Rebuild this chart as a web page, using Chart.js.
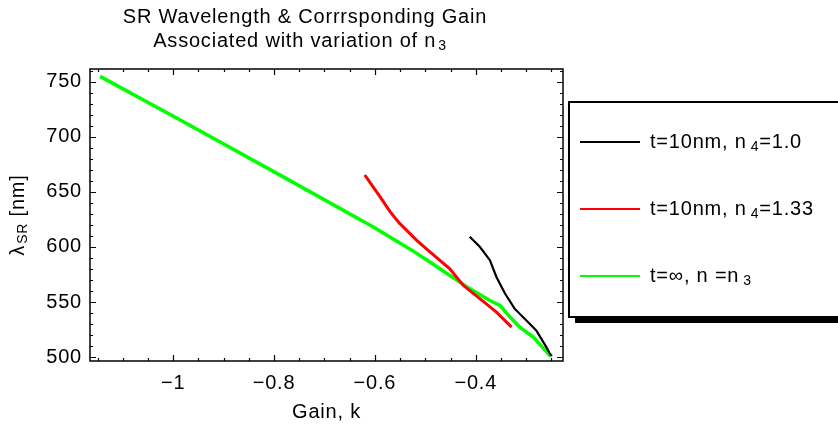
<!DOCTYPE html>
<html>
<head>
<meta charset="utf-8">
<script src="https://cdn.jsdelivr.net/npm/chart.js@4/dist/chart.umd.min.js"></script>
<style>
  html, body { margin: 0; padding: 0; background: #fff; overflow: hidden; }
  canvas { display: block; }
</style>
</head>
<body>
<canvas id="c" width="838" height="425"></canvas>
<script>
// Gain k and SR wavelength (nm) for each structure
const gainT10N4a = [-0.412, -0.392, -0.372, -0.359, -0.342, -0.323, -0.300, -0.280, -0.260, -0.253, -0.249];
const lambdaT10N4a = [609.2, 600.1, 588.0, 572.8, 557.7, 544.0, 533.4, 524.3, 509.1, 503.1, 501.0];

const gainT10N4b = [-0.620, -0.604, -0.590, -0.570, -0.551, -0.517, -0.491, -0.452, -0.425, -0.392, -0.359, -0.329];
const lambdaT10N4b = [665.3, 654.7, 645.6, 632.0, 621.4, 606.0, 595.5, 580.4, 565.2, 553.1, 540.9, 527.3];

const gainTinf = [-1.145, -0.987, -0.789, -0.604, -0.527, -0.491, -0.452, -0.412, -0.373, -0.352, -0.332, -0.313, -0.286, -0.251];
const lambdaTinf = [754.8, 715.4, 665.4, 618.3, 597.1, 586.4, 574.3, 562.2, 551.6, 547.0, 536.4, 527.3, 518.2, 500.5];

// Axis tick labels
const xTickLabels = [-1, -0.8, -0.6, -0.4];
const yTickLabels = [500, 550, 600, 650, 700, 750];

// Legend labels as text runs (sub = subscript)
const labelT10N4a = [{ t: 't=10nm, n' }, { t: '4', sub: true, gap: 4 }, { t: '=1.0' }];
const labelT10N4b = [{ t: 't=10nm, n' }, { t: '4', sub: true, gap: 4 }, { t: '=1.33' }];
const labelTinf = [{ t: 't=\u221E, n =n' }, { t: '3', sub: true, gap: 4 }];

const titleLine1 = [{ t: 'SR Wavelength & Corrrsponding Gain' }];
const titleLine2 = [{ t: 'Associated with variation of n' }, { t: '3', sub: true, gap: 2 }];
const xTitle = [{ t: 'Gain, k' }];
const yTitle = [{ t: '\u03BB' }, { t: 'SR', sub: true, gap: 1 }, { t: ' [nm]' }];

const FONT = '"Liberation Sans", Arial, sans-serif';
const SIZE = 20;
const SPACING = '0.8px';
const pts = (xs, ys) => xs.map((x, i) => ({ x, y: ys[i] }));

function richWidth(ctx, segs, size) {
  let w = 0;
  for (const s of segs) {
    ctx.font = (s.sub ? Math.round(size * 0.72) : size) + 'px ' + FONT;
    w += ctx.measureText(s.t).width + (s.gap || 0);
  }
  return w;
}

function drawRich(ctx, segs, x, y, size, align) {
  const total = richWidth(ctx, segs, size);
  let cx = align === 'center' ? x - total / 2 : align === 'right' ? x - total : x;
  ctx.textBaseline = 'middle';
  ctx.textAlign = 'left';
  ctx.fillStyle = '#000';
  for (const s of segs) {
    const sz = s.sub ? Math.round(size * 0.72) : size;
    ctx.font = sz + 'px ' + FONT;
    cx += (s.gap || 0);
    ctx.fillText(s.t, cx, s.sub ? y + size * 0.28 : y);
    cx += ctx.measureText(s.t).width;
  }
}

// Slightly wider text spacing for every label on the canvas
const spacing = {
  id: 'spacing',
  beforeLayout(chart) { chart.ctx.letterSpacing = SPACING; },
  beforeDraw(chart) { chart.ctx.letterSpacing = SPACING; }
};

// Frame, inward tick marks, titles and legend box
const decorations = {
  id: 'decorations',
  afterDraw(chart) {
    const { ctx, chartArea: a, scales } = chart;
    const xs = scales.x, ys = scales.y;
    ctx.save();
    ctx.letterSpacing = SPACING;
    ctx.strokeStyle = '#000';
    ctx.lineWidth = 1.5;
    ctx.strokeRect(a.left, a.top, a.right - a.left, a.bottom - a.top);

    ctx.lineWidth = 1.2;
    ctx.beginPath();
    // x ticks every 0.05, longer at labelled values
    for (let k = Math.ceil(xs.min / 0.05); k * 0.05 <= xs.max; k++) {
      const v = k * 0.05;
      const major = xTickLabels.some(t => Math.abs(t - v) < 1e-6);
      const len = major ? 6 : 3;
      const px = Math.round(xs.getPixelForValue(v)) + 0.5;
      ctx.moveTo(px, a.bottom); ctx.lineTo(px, a.bottom - len);
      ctx.moveTo(px, a.top); ctx.lineTo(px, a.top + len);
    }
    // y ticks every 10 nm, longer at labelled values
    for (let k = Math.ceil(ys.min / 10); k * 10 <= ys.max; k++) {
      const v = k * 10;
      const major = yTickLabels.includes(v);
      const len = major ? 6 : 3;
      const py = Math.round(ys.getPixelForValue(v)) + 0.5;
      ctx.moveTo(a.left, py); ctx.lineTo(a.left + len, py);
      ctx.moveTo(a.right, py); ctx.lineTo(a.right - len, py);
    }
    ctx.stroke();

    // titles
    drawRich(ctx, titleLine1, 305, 17, SIZE, 'center');
    drawRich(ctx, titleLine2, 300, 41, SIZE, 'center');
    drawRich(ctx, xTitle, (a.left + a.right) / 2, 412, SIZE, 'center');
    ctx.save();
    ctx.translate(18, (a.top + a.bottom) / 2);
    ctx.rotate(-Math.PI / 2);
    drawRich(ctx, yTitle, 0, 0, SIZE, 'center');
    ctx.restore();

    // legend box with drop shadow
    const lx = 569, ly = 102, lw = 290, lh = 215;
    ctx.fillStyle = '#000';
    ctx.fillRect(lx + 6, ly + lh, lw, 6);
    ctx.fillStyle = '#fff';
    ctx.fillRect(lx, ly, lw, lh);
    ctx.lineWidth = 2;
    ctx.strokeStyle = '#000';
    ctx.strokeRect(lx, ly, lw, lh);

    const labels = [labelT10N4a, labelT10N4b, labelTinf];
    const rows = [142, 209, 276];
    chart.data.datasets.forEach((ds, i) => {
      ctx.strokeStyle = ds.borderColor;
      ctx.lineWidth = 2;
      ctx.beginPath();
      ctx.moveTo(580, rows[i]); ctx.lineTo(640, rows[i]);
      ctx.stroke();
      drawRich(ctx, labels[i], 650, rows[i], SIZE, 'left');
    });
    ctx.restore();
  }
};

new Chart(document.getElementById('c'), {
  type: 'scatter',
  data: {
    datasets: [
      { label: 't=10nm, n4=1.0', data: pts(gainT10N4a, lambdaT10N4a), borderColor: '#000000', borderWidth: 2.2 },
      { label: 't=10nm, n4=1.33', data: pts(gainT10N4b, lambdaT10N4b), borderColor: '#ff0000', borderWidth: 3 },
      { label: 't=inf, n=n3', data: pts(gainTinf, lambdaTinf), borderColor: '#00ff00', borderWidth: 3.5 }
    ].map(d => Object.assign(d, { showLine: true, pointRadius: 0, tension: 0, fill: false }))
  },
  options: {
    responsive: false,
    animation: false,
    devicePixelRatio: 1,
    layout: { padding: { top: 69, right: 275, bottom: 0, left: 0 } },
    plugins: { legend: { display: false }, tooltip: { enabled: false } },
    scales: {
      x: {
        type: 'linear', min: -1.165, max: -0.227,
        grid: { display: false, drawTicks: false }, border: { display: false },
        afterFit: s => { s.height = 64; },
        afterBuildTicks: s => { s.ticks = xTickLabels.map(v => ({ value: v })); },
        ticks: {
          padding: 10, color: '#000', maxRotation: 0, autoSkip: false,
          font: { family: FONT, size: SIZE },
          callback: v => String(v).replace('-', '\u2212')
        }
      },
      y: {
        type: 'linear', min: 496.5, max: 761.5,
        grid: { display: false, drawTicks: false }, border: { display: false },
        afterFit: s => { s.width = 90; },
        afterBuildTicks: s => { s.ticks = yTickLabels.map(v => ({ value: v })); },
        ticks: {
          padding: 8, color: '#000', autoSkip: false,
          font: { family: FONT, size: SIZE }
        }
      }
    }
  },
  plugins: [spacing, decorations]
});
</script>
</body>
</html>
